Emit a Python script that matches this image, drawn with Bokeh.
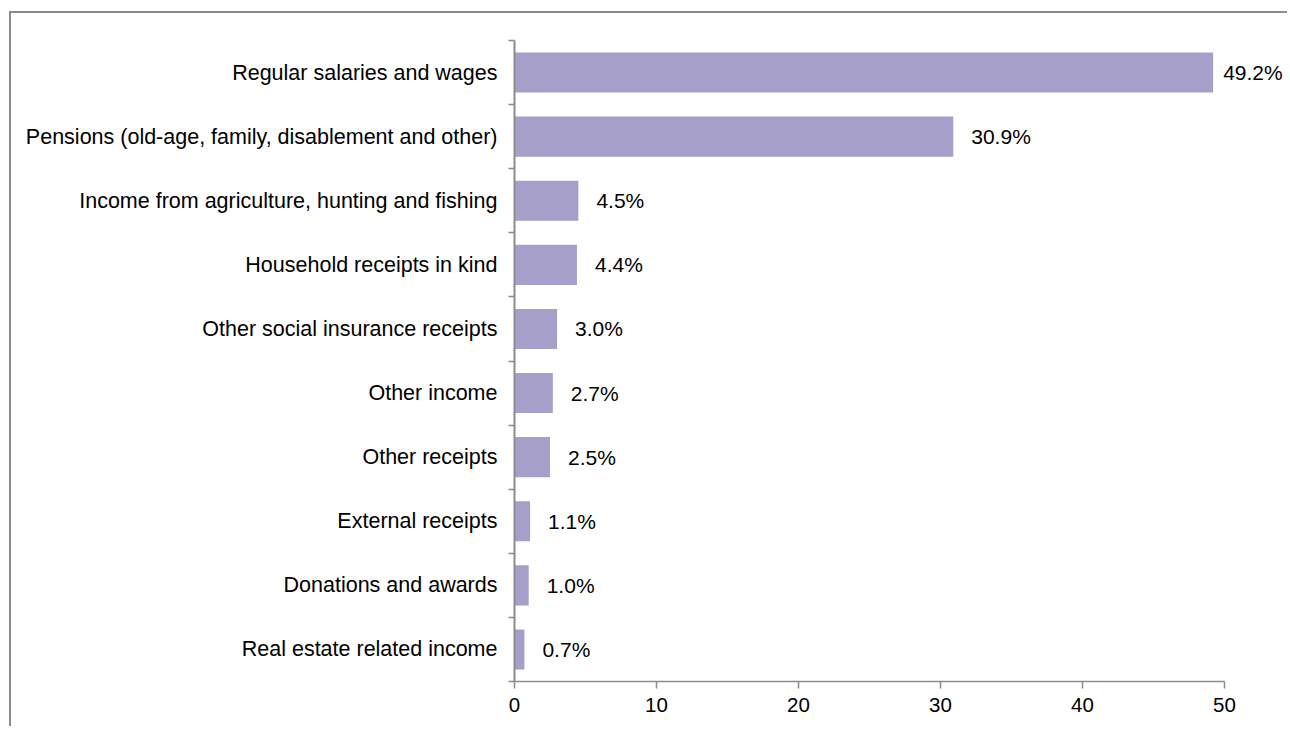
from bokeh.plotting import figure
from bokeh.models import Range1d, FixedTicker, ColumnDataSource, LabelSet
from bokeh.core.properties import value
from bokeh.embed import file_html
from bokeh.resources import INLINE

categories = [
    "Regular salaries and wages",
    "Pensions (old-age, family, disablement and other)",
    "Income from agriculture, hunting and fishing",
    "Household receipts in kind",
    "Other social insurance receipts",
    "Other income",
    "Other receipts",
    "External receipts",
    "Donations and awards",
    "Real estate related income",
]
values = [49.2, 30.9, 4.5, 4.4, 3.0, 2.7, 2.5, 1.1, 1.0, 0.7]
x_ticks = [0, 10, 20, 30, 40, 50]

n = len(categories)
centers = [n - 1 - i + 0.5 for i in range(n)]
labels = [f"{v:.1f}%" for v in values]

FONT = "Liberation Sans"
AXIS_COLOR = "#8c8c8c"
FRAME_W = 775
X_END = FRAME_W / 14.2
PX_PER_UNIT = FRAME_W / X_END

# labels that would run past the right edge are pulled closer to the bar
offsets = [10 if (v * PX_PER_UNIT + 18 + 60) > FRAME_W else 18 for v in values]

p = figure(
    width=503 + FRAME_W, height=715,
    x_range=Range1d(0, X_END), y_range=Range1d(0, n),
    output_backend="svg", toolbar_location=None,
    min_border_left=503, min_border_right=0,
    min_border_top=27, min_border_bottom=47,
)
p.styles = {
    "border-top": f"2px solid {AXIS_COLOR}",
    "border-left": f"2px solid {AXIS_COLOR}",
    "margin-top": "11px",
    "margin-left": "9px",
}
p.outline_line_color = None
p.xgrid.visible = False
p.ygrid.visible = False
p.background_fill_color = "white"
p.border_fill_color = "white"

src = ColumnDataSource(dict(y=centers, v=values, lab=labels, off=offsets))
p.hbar(y="y", right="v", left=0, height=0.625, source=src,
       fill_color="#A69FCA", line_color=None)

lbl = LabelSet(x="v", y="y", text="lab", source=src, x_offset="off",
               text_baseline="middle", text_align="left",
               text_font=value(FONT), text_font_size="21px", text_color="#000000")
p.add_layout(lbl)

# y axis
ya = p.yaxis[0]
ya.ticker = FixedTicker(ticks=centers, minor_ticks=list(range(n + 1)))
ya.major_label_overrides = {c: name for c, name in zip(centers, categories)}
ya.major_tick_out = 0
ya.major_tick_in = 0
ya.minor_tick_out = 6
ya.minor_tick_in = 0
ya.minor_tick_line_color = AXIS_COLOR
ya.minor_tick_line_width = 1.5
ya.axis_line_color = AXIS_COLOR
ya.axis_line_width = 2
ya.major_label_standoff = 11
ya.major_label_text_font = FONT
ya.major_label_text_font_size = "21.5px"
ya.major_label_text_color = "#000000"

# x axis
xa = p.xaxis[0]
xa.ticker = FixedTicker(ticks=x_ticks, minor_ticks=[])
xa.bounds = (0, 50)
xa.major_tick_out = 7
xa.major_tick_in = 0
xa.major_tick_line_color = AXIS_COLOR
xa.major_tick_line_width = 1.5
xa.axis_line_color = AXIS_COLOR
xa.axis_line_width = 1.5
xa.major_label_standoff = 9
xa.major_label_text_font = FONT
xa.major_label_text_font_size = "20.5px"
xa.major_label_text_color = "#000000"

open("out.html", "w").write(file_html(p, INLINE))
